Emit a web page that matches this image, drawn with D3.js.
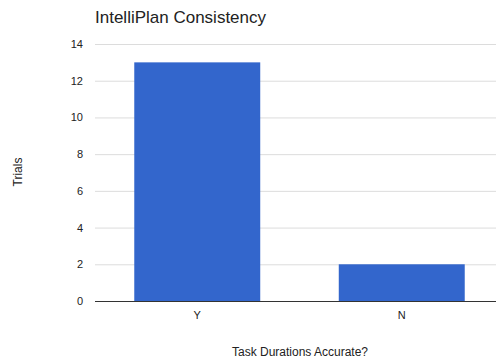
<!DOCTYPE html>
<html>
<head>
<meta charset="utf-8">
<script src="https://cdn.jsdelivr.net/npm/d3@7"></script>
<style>
  html, body { margin: 0; padding: 0; background: #fff; }
  svg { display: block; font-family: Arial, "Liberation Sans", sans-serif; }
</style>
</head>
<body>
<svg id="chart" width="496" height="360"></svg>
<script>
const categories = ["Y", "N"];
const trials = [13, 2];
const yTicks = [0, 2, 4, 6, 8, 10, 12, 14];

(function () {
  const svg = d3.select("#chart");
  const W = 496;
  const plotLeft = 95, plotTop = 44, plotBottom = 301;

  const x = d3.scaleBand()
    .domain(categories)
    .range([plotLeft, 504])
    .paddingInner(0.384)
    .paddingOuter(0.192);

  const y = d3.scaleLinear().domain([0, 14]).range([plotBottom, plotTop]);

  // gridlines and tick labels
  const yAxis = d3.axisLeft(y).tickValues(yTicks).tickSize(-(W - plotLeft)).tickPadding(12);
  const gy = svg.append("g").attr("transform", `translate(${plotLeft},0)`).call(yAxis);
  gy.select(".domain").remove();
  gy.selectAll(".tick line").attr("stroke", "#dcdcdc").attr("stroke-width", 1);
  gy.selectAll(".tick text").attr("fill", "#222").attr("font-size", 11);

  // bars
  svg.append("g").selectAll("rect")
    .data(categories.map((c, i) => ({ c, v: trials[i] })))
    .join("rect")
    .attr("x", d => x(d.c))
    .attr("width", x.bandwidth())
    .attr("y", d => y(d.v))
    .attr("height", d => y(0) - y(d.v))
    .attr("fill", "#3366cc");

  // baseline + category labels
  const xAxis = d3.axisBottom(x).tickSize(0).tickPadding(10);
  const gx = svg.append("g").attr("transform", `translate(0,${plotBottom})`).call(xAxis);
  gx.select(".domain").remove();
  gx.selectAll(".tick text").attr("fill", "#222").attr("font-size", 11);
  svg.append("line")
    .attr("x1", plotLeft).attr("x2", W)
    .attr("y1", y(0) + 0.5).attr("y2", y(0) + 0.5)
    .attr("stroke", "#333").attr("stroke-width", 1);

  // title and axis titles
  svg.append("text")
    .attr("x", 95).attr("y", 23)
    .attr("font-size", 17).attr("fill", "#222")
    .text("IntelliPlan Consistency");

  svg.append("text")
    .attr("x", 300).attr("y", 356)
    .attr("text-anchor", "middle")
    .attr("font-size", 12).attr("fill", "#222")
    .text("Task Durations Accurate?");

  svg.append("text")
    .attr("transform", "translate(22,172) rotate(-90)")
    .attr("text-anchor", "middle")
    .attr("font-size", 12).attr("fill", "#222")
    .text("Trials");
})();
</script>
</body>
</html>
